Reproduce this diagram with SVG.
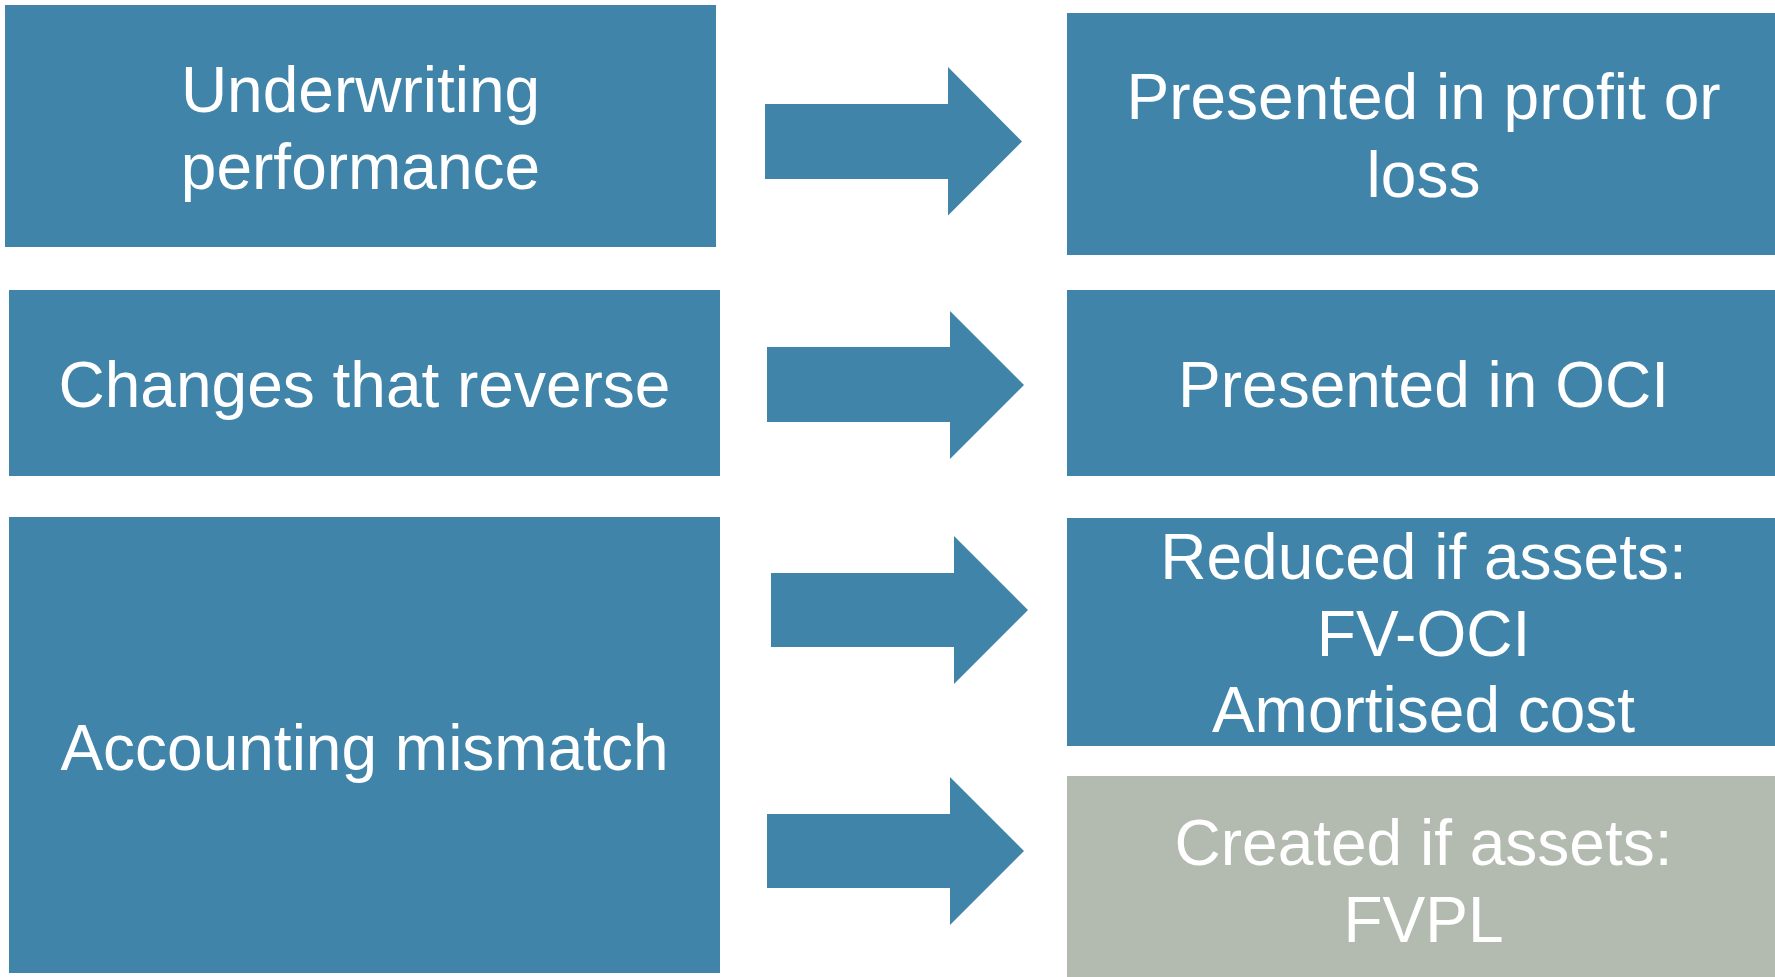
<svg xmlns="http://www.w3.org/2000/svg" width="1775" height="977" viewBox="0 0 1775 977">
<style>
.b{fill:#4184A9}
.g{fill:#B3BAB0}
.a{fill:#4184A9}
text{font-family:"Liberation Sans",Arial,sans-serif;font-size:64px;fill:#FFFFFF;text-anchor:middle}
</style>
<rect width="1775" height="977" fill="#FFFFFF"/>
<g id="node-underwriting">
<rect class="b" x="5" y="5" width="711" height="242"/>
<text x="360.5" y="112">Underwriting</text>
<text x="360.5" y="189">performance</text>
</g>
<g id="node-changes">
<rect class="b" x="9" y="290" width="711" height="186"/>
<text x="364.5" y="407">Changes that reverse</text>
</g>
<g id="node-mismatch">
<rect class="b" x="9" y="517" width="711" height="456"/>
<text x="364.5" y="770">Accounting mismatch</text>
</g>
<g id="node-profit-loss">
<rect class="b" x="1067" y="13" width="708" height="242"/>
<text x="1423.5" y="119">Presented in profit or</text>
<text x="1423.5" y="197">loss</text>
</g>
<g id="node-oci">
<rect class="b" x="1067" y="290" width="708" height="186"/>
<text x="1423.5" y="407">Presented in OCI</text>
</g>
<g id="node-reduced">
<rect class="b" x="1067" y="518" width="708" height="228"/>
<text x="1423.5" y="579">Reduced if assets:</text>
<text x="1423.5" y="656">FV-OCI</text>
<text x="1423.5" y="732">Amortised cost</text>
</g>
<g id="node-created">
<rect class="g" x="1067" y="776" width="708" height="201"/>
<text x="1423.5" y="865">Created if assets:</text>
<text x="1423.5" y="942">FVPL</text>
</g>
<g id="connectors">
<polygon class="a" points="765,104 948,104 948,67 1022,141.5 948,215.5 948,179 765,179"/>
<polygon class="a" points="767,347 950,347 950,311 1024,385 950,459 950,422 767,422"/>
<polygon class="a" points="771,573 954,573 954,536 1028,610 954,684 954,647 771,647"/>
<polygon class="a" points="767,814 950,814 950,777 1024,851 950,925 950,888 767,888"/>
</g>
</svg>
